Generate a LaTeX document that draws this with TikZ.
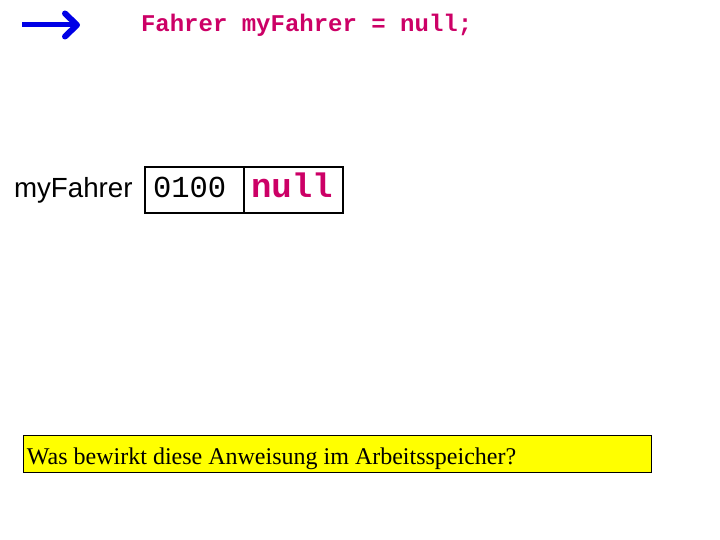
\documentclass[tikz,border=0pt]{standalone}
\usepackage{fontspec}
\setmainfont{Liberation Serif}
\newfontfamily\monofont{Liberation Mono}
\newfontfamily\arialfont{Liberation Sans}
\usetikzlibrary{arrows.meta}
\definecolor{codemag}{RGB}{204,0,102}
\definecolor{arrblue}{RGB}{0,0,230}
\definecolor{qyellow}{RGB}{255,255,0}
\begin{document}
\begin{tikzpicture}[x=1pt,y=-1pt,
  txt/.style={inner sep=0pt,outer sep=0pt,anchor=base west},
  cell/.style={draw=black,line width=2.8pt,minimum width=99pt,minimum height=46pt,inner sep=0pt,outer sep=0pt},
  code/.style={txt,text=codemag,font=\monofont\bfseries\fontsize{24}{28}\selectfont}]
\useasboundingbox (0,0) rectangle (720,540);
% arrow
\coordinate (a0) at (22,25);
\coordinate (a1) at (80,25);
\draw[arrblue,line width=5pt,-{Straight Barb[length=12pt,width=23pt,line width=6pt,round]}] (a0) -- (a1);
% statement
\node[code] (stmt) at (141,32) {Fahrer myFahrer = null;};
% memory
\node[txt,font=\arialfont\fontsize{27.7}{30}\selectfont] (lbl) at (14,198) {myFahrer};
\node[cell,anchor=north west] (c1) at (145,167) {};
\node[cell,anchor=north west] (c2) at (c1.north east) {};
\node[txt,font=\monofont\fontsize{30.5}{32}\selectfont] (addr) at (153,197.5) {0100};
\node[txt,text=codemag,font=\monofont\bfseries\fontsize{34}{36}\selectfont] (val) at (251,197.5) {null};
% question
\node[draw=black,fill=qyellow,line width=0.8pt,anchor=north west,minimum width=628pt,minimum height=37pt,inner sep=0pt] (qbox) at (23,435) {};
\node[txt,font=\fontsize{24}{28}\selectfont] (q) at (27,464) {Was bewirkt diese Anweisung im Arbeitsspeicher?};
\end{tikzpicture}
\end{document}
